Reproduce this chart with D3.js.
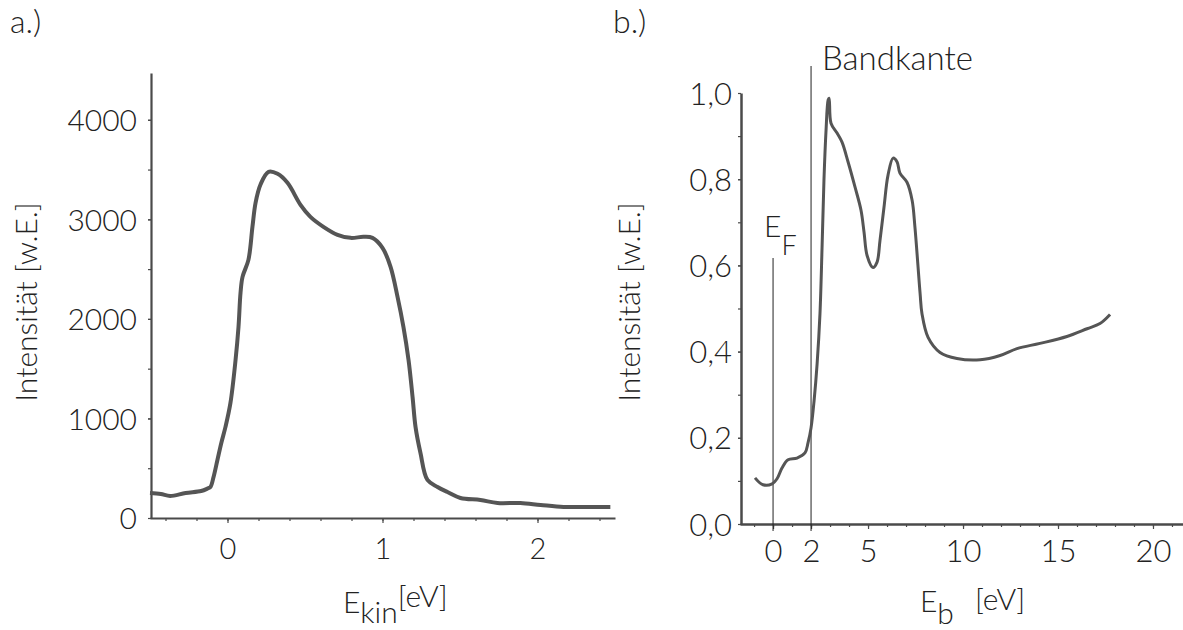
<!DOCTYPE html>
<html><head><meta charset="utf-8">
<script src="https://cdn.jsdelivr.net/npm/d3@7"></script>
<style>
body{margin:0;background:#fff}
svg{display:block}
text{font-family:Lato,'Open Sans',sans-serif;font-weight:300;fill:#222}
</style>
</head><body>
<svg id="c" width="1183" height="630"></svg>
<script>
// ---- Panel a) : kinetic energy spectrum ----
const kinE = [-0.50,-0.43,-0.37,-0.27,-0.17,-0.13,-0.11,-0.09,-0.065,-0.04,-0.013,0.019,0.052,0.071,0.084,0.097,0.135,0.161,0.181,0.213,0.265,0.323,0.387,0.471,0.535,0.619,0.71,0.794,0.877,0.935,1.0,1.052,1.097,1.135,1.168,1.194,1.213,1.245,1.29,1.355,1.419,1.503,1.632,1.742,1.89,2.02,2.168,2.32,2.47];
const kinI = [251,241,221,251,271,295,312,412,583,754,915,1156,1588,1920,2261,2422,2593,2925,3166,3350,3477,3457,3367,3146,3025,2925,2844,2814,2824,2814,2714,2523,2221,1920,1588,1216,915,653,382,312,261,201,181,151,151,131,111,111,111];
const kinXTicks = [0,1,2];
const kinYTicks = [0,1000,2000,3000,4000];

// ---- Panel b) : binding energy spectrum ----
const ebE = [-0.95,-0.53,-0.05,0.21,0.47,0.79,1.26,1.68,1.84,2.0,2.16,2.32,2.47,2.58,2.68,2.79,2.9,2.95,3.05,3.37,3.63,3.95,4.32,4.63,4.79,4.95,5.26,5.47,5.63,5.84,6.05,6.32,6.53,6.68,7.05,7.32,7.47,7.74,7.84,8.16,8.79,9.68,10.9,11.95,12.84,14.05,15.47,16.53,17.21,17.74];
const ebI = [0.107,0.091,0.093,0.105,0.13,0.149,0.153,0.165,0.188,0.223,0.286,0.372,0.488,0.642,0.798,0.914,0.984,0.988,0.93,0.907,0.886,0.84,0.781,0.728,0.677,0.623,0.595,0.607,0.658,0.735,0.809,0.849,0.84,0.814,0.793,0.751,0.688,0.535,0.488,0.433,0.398,0.384,0.381,0.391,0.407,0.419,0.435,0.453,0.465,0.486];
const ebXTicks = [0,2,5,10,15,20];
const ebYTicks = [0,0.2,0.4,0.6,0.8,1.0];
const markerE = [0,2];

const svg = d3.select('#c');
const axisColor = '#4a4a4a';

function styleAxis(g, w){
  g.select('.domain').attr('stroke', axisColor).attr('stroke-width', w);
  g.selectAll('.tick line').attr('stroke', axisColor).attr('stroke-width', 1.2);
}

// ===== Panel a =====
const xa = d3.scaleLinear().domain([-0.5, 2.5]).range([150, 615]);
const ya = d3.scaleLinear().domain([0, 4470]).range([518, 73]);

const gxaMinor = svg.append('g').attr('transform','translate(0,518)')
  .call(d3.axisBottom(xa).tickValues(d3.range(-0.4, 2.5, 0.2)).tickSize(3).tickSizeOuter(0).tickFormat(''));
gxaMinor.select('.domain').remove();
styleAxis(gxaMinor, 2);
const gxa = svg.append('g').attr('transform','translate(0,518)')
  .call(d3.axisBottom(xa).tickValues(kinXTicks).tickSize(5).tickSizeOuter(0).tickFormat(d3.format('d')));
styleAxis(gxa, 2.2);
gxa.selectAll('text').attr('y', 41).attr('dy', 0).style('font-size','29px').attr('fill','#222');

const gyaMinor = svg.append('g').attr('transform','translate(151,0)')
  .call(d3.axisLeft(ya).tickValues(d3.range(500, 4470, 500)).tickSize(3).tickSizeOuter(0).tickFormat(''));
gyaMinor.select('.domain').remove();
styleAxis(gyaMinor, 2);
const gya = svg.append('g').attr('transform','translate(151,0)')
  .call(d3.axisLeft(ya).tickValues(kinYTicks).tickSize(3).tickSizeOuter(0).tickFormat(d3.format('d')));
styleAxis(gya, 2.2);
gya.selectAll('text').attr('x', -14).attr('dy','0.36em').style('font-size','30px').attr('fill','#222');

const lineA = d3.line().x((d,i)=>xa(kinE[i])).y((d,i)=>ya(kinI[i])).curve(d3.curveCatmullRom.alpha(0.5));
svg.append('path').attr('d', lineA(kinE)).attr('fill','none').attr('stroke','#555').attr('stroke-width',4).attr('stroke-linejoin','round');

svg.append('text').attr('x',10).attr('y',33).style('font-size','32px').text('a.)');
svg.append('text').attr('transform','translate(37,302) rotate(-90)').attr('text-anchor','middle').style('font-size','30px').text('Intensität [w.E.]');
const tA = svg.append('text').attr('x',343).attr('y',613).style('font-size','30px');
tA.append('tspan').text('E');
tA.append('tspan').attr('dy',10).text('kin');
tA.append('tspan').attr('dy',-16).text('[eV]');

// ===== Panel b =====
const xb = d3.scaleLinear().domain([-1.74, 21.58]).range([740, 1183]);
const yb = d3.scaleLinear().domain([0, 1]).range([524, 93]);

const gxbMinor = svg.append('g').attr('transform','translate(0,524)')
  .call(d3.axisBottom(xb).tickValues(d3.range(-1, 22, 1)).tickSize(3).tickSizeOuter(0).tickFormat(''));
gxbMinor.select('.domain').remove();
styleAxis(gxbMinor, 2);
const gxb = svg.append('g').attr('transform','translate(0,524)')
  .call(d3.axisBottom(xb).tickValues(ebXTicks).tickSize(5).tickSizeOuter(0).tickFormat(d3.format('d')));
styleAxis(gxb, 2.5);
gxb.selectAll('text').attr('y', 38).attr('dy', 0).style('font-size','31px').attr('fill','#222');

const commaFmt = d => d3.format('.1f')(d).replace('.', ',');
const gybMinor = svg.append('g').attr('transform','translate(741,0)')
  .call(d3.axisLeft(yb).tickValues(d3.range(0.1, 1.0, 0.1)).tickSize(3).tickSizeOuter(0).tickFormat(''));
gybMinor.select('.domain').remove();
styleAxis(gybMinor, 2);
const gyb = svg.append('g').attr('transform','translate(741,0)')
  .call(d3.axisLeft(yb).tickValues(ebYTicks).tickSize(3).tickSizeOuter(0).tickFormat(commaFmt));
styleAxis(gyb, 2.5);
gyb.selectAll('text').attr('x', -9).attr('dy','0.36em').style('font-size','31px').attr('fill','#222');

const markerTop = [258, 66];
svg.selectAll('line.marker').data(markerE).join('line').attr('class','marker')
  .attr('x1', d=>xb(d)).attr('x2', d=>xb(d))
  .attr('y1', (d,i)=>markerTop[i]).attr('y2', 531)
  .attr('stroke','#222').attr('stroke-width',1);

const lineB = d3.line().x((d,i)=>xb(ebE[i])).y((d,i)=>yb(ebI[i])).curve(d3.curveCatmullRom.alpha(0.5));
svg.append('path').attr('d', lineB(ebE)).attr('fill','none').attr('stroke','#555').attr('stroke-width',3).attr('stroke-linejoin','round');

svg.append('text').attr('x',613).attr('y',33).style('font-size','32px').text('b.)');
svg.append('text').attr('x',822).attr('y',70).style('font-size','33px').text('Bandkante');
const tEF = svg.append('text').attr('x',764).attr('y',237).style('font-size','30px');
tEF.append('tspan').text('E');
tEF.append('tspan').attr('dy',18).style('font-size','27px').text('F');
svg.append('text').attr('transform','translate(640,302) rotate(-90)').attr('text-anchor','middle').style('font-size','30px').text('Intensität [w.E.]');
const tB = svg.append('text').attr('x',920).attr('y',612).style('font-size','30px');
tB.append('tspan').text('E');
tB.append('tspan').attr('dy',12).text('b');
tB.append('tspan').attr('x',975).attr('dy',-14).text('[eV]');
</script>
</body></html>
